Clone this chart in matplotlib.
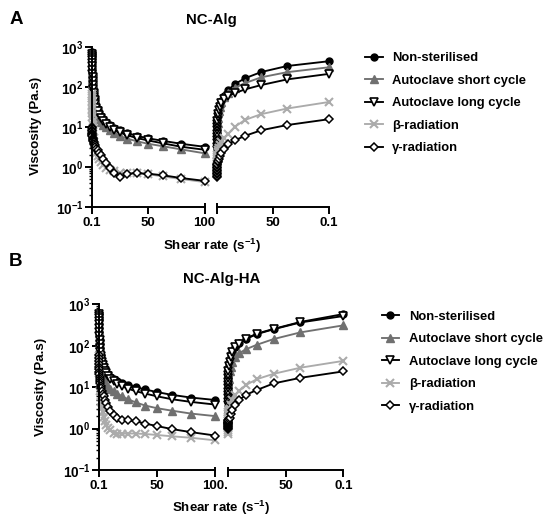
import matplotlib
matplotlib.use("Agg")
import matplotlib.pyplot as plt
from matplotlib.lines import Line2D
from matplotlib.ticker import FixedLocator, FixedFormatter, LogLocator, NullFormatter

plt.rcParams["font.family"] = ["Liberation Sans", "DejaVu Sans"]
plt.rcParams["font.weight"] = "bold"
plt.rcParams["mathtext.fontset"] = "custom"
plt.rcParams["mathtext.bf"] = "Liberation Sans:bold"
plt.rcParams["mathtext.rm"] = "Liberation Sans"

# ---------------------------------------------------------------- data
SERIES = ["Non-sterilised", "Autoclave short cycle", "Autoclave long cycle",
          "\u03b2-radiation", "\u03b3-radiation"]

# ramp-up shear rates (s^-1)
SHEAR_UP = [0.1, 0.126, 0.158, 0.2, 0.251, 0.316, 0.398, 0.501, 0.631, 0.794,
            1.0, 1.26, 1.58, 2.0, 2.51, 3.16, 3.98, 5.01, 6.31, 7.94,
            10.0, 12.6, 15.8, 20.0, 25.1, 31.6, 39.8, 50.1, 63.1, 79.4, 100.0]
# ramp-down positions on the reversed axis
SHEAR_DOWN = [100.0, 99.98, 99.96, 99.94, 99.92, 99.9, 99.85, 99.8, 99.7, 99.6,
              99.4, 99.0, 98.4, 97.5, 96.1, 93.8, 90.1, 84.3, 75.0, 60.3, 37.1, 0.1]

# NC-Alg viscosity (Pa.s)
A_NS_UP = [750, 680, 600, 520, 440, 370, 300, 245, 195, 155, 125, 100, 80, 64, 52, 42, 34,
           28, 23, 19, 16, 13.5, 11.5, 9.6, 8.2, 7.0, 6.0, 5.2, 4.5, 3.8, 3.2]
A_SHORT_UP = [300, 270, 240, 210, 185, 160, 138, 118, 100, 86, 72, 60, 50, 41, 34, 28, 23,
              19, 16, 13.5, 11.5, 9.8, 8.3, 7.0, 5.9, 5.1, 4.4, 3.8, 3.3, 2.75, 2.2]
A_LONG_UP = [680, 610, 540, 465, 395, 330, 268, 217, 173, 138, 111, 89, 71, 57, 46, 37, 30,
             25, 20.5, 17, 14.2, 12, 10.2, 8.6, 7.3, 6.2, 5.3, 4.6, 3.9, 3.2, 2.7]
A_BETA_UP = [68, 60, 52, 44, 36, 29, 23, 18, 14, 11, 8.5, 6.7, 5.3, 4.2, 3.4, 2.8, 2.3,
             1.9, 1.6, 1.35, 1.1, 0.95, 0.85, 0.78, 0.72, 0.7, 0.69, 0.66, 0.58, 0.5, 0.42]
A_GAMMA_UP = [10, 9.2, 8.5, 7.8, 7.2, 6.7, 6.2, 5.8, 5.4, 5.0, 4.7, 4.4, 4.1, 3.8, 3.5, 3.2,
              2.9, 2.6, 2.3, 2.0, 1.6, 1.25, 0.95, 0.72, 0.55, 0.68, 0.7, 0.68, 0.62, 0.53, 0.45]

A_NS_DOWN = [3.0, 3.6, 4.3, 5.2, 6.2, 7.4, 8.9, 10.7, 12.8, 15.3, 18.4, 22,
             27, 33.5, 45, 60, 83, 117, 165, 237, 335, 440]
A_SHORT_DOWN = [1.5, 1.8, 2.2, 2.7, 3.3, 4.1, 5.0, 6.2, 7.7, 9.6, 12.5, 17,
                25, 32, 42, 55, 72, 95, 125, 175, 235, 310]
A_LONG_DOWN = [2.7, 3.2, 3.9, 4.7, 5.6, 6.8, 8.2, 9.9, 12, 14.5, 17.5, 21,
               26, 32, 40, 50, 60, 70, 87, 112, 155, 212]
A_BETA_DOWN = [0.8, 0.88, 0.97, 1.07, 1.18, 1.3, 1.45, 1.62, 1.82, 2.05, 2.35, 2.65,
               3.0, 3.5, 4.2, 5.2, 6.6, 10, 15, 21, 29, 42]
A_GAMMA_DOWN = [0.55, 0.6, 0.66, 0.72, 0.79, 0.86, 0.94, 1.02, 1.1, 1.2, 1.3, 1.45,
                1.6, 1.9, 2.3, 2.9, 3.7, 4.6, 6.0, 8.3, 11.2, 15.6]

# NC-Alg-HA viscosity (Pa.s)
B_NS_UP = [600, 540, 480, 410, 340, 275, 220, 175, 140, 112, 90, 73, 60, 50, 42, 36, 31,
           27, 23.5, 20.5, 18, 15.8, 14, 12.6, 11.3, 10, 8.8, 7.6, 6.5, 5.6, 4.9]
B_SHORT_UP = [240, 200, 165, 135, 110, 90, 75, 63, 53, 45, 38, 32, 27, 23, 20, 17, 15,
              13, 11.5, 10, 9.0, 8.0, 7.0, 6.0, 5.1, 4.3, 3.6, 3.1, 2.7, 2.3, 2.0]
B_LONG_UP = [590, 530, 470, 400, 335, 270, 215, 172, 138, 110, 88, 71, 58, 48, 40, 34, 29,
             25, 21.5, 18.5, 16, 13.8, 12, 10.5, 9.2, 8.0, 7.0, 6.0, 5.1, 4.4, 3.8]
B_BETA_UP = [55, 50, 46, 42, 37, 32, 27, 22, 18, 14, 11, 8, 6, 4.5, 3.3, 2.5, 1.9,
             1.5, 1.25, 1.05, 0.9, 0.8, 0.75, 0.75, 0.76, 0.76, 0.74, 0.7, 0.65, 0.6, 0.52]
B_GAMMA_UP = [60, 50, 42, 36, 31, 27, 23.5, 20.5, 18, 16, 14, 12.3, 10.8, 9.4, 8.1, 7.0,
              6.0, 5.0, 4.1, 3.3, 2.6, 2.15, 1.85, 1.65, 1.58, 1.5, 1.32, 1.15, 0.97, 0.82, 0.68]

B_NS_DOWN = [4.9, 5.7, 6.7, 7.9, 9.3, 11, 13, 15.5, 18.5, 22, 27, 34,
             42, 55, 72, 95, 115, 148, 195, 255, 375, 580]
B_SHORT_DOWN = [2.0, 2.35, 2.75, 3.2, 3.8, 4.5, 5.3, 6.3, 7.6, 9.2, 12, 16,
                24, 31, 40, 53, 66, 82, 105, 145, 210, 310]
B_LONG_DOWN = [3.8, 4.5, 5.4, 6.5, 7.8, 9.4, 11.3, 13.6, 16.4, 20, 25, 32,
               41, 54, 70, 92, 112, 145, 190, 250, 365, 520]
B_BETA_DOWN = [0.75, 0.84, 0.94, 1.05, 1.18, 1.33, 1.5, 1.7, 1.95, 2.2, 2.5, 2.8,
               3.0, 3.8, 4.9, 6.3, 8.2, 11.2, 15.5, 21, 29.5, 43]
B_GAMMA_DOWN = [1.0, 1.05, 1.1, 1.15, 1.2, 1.27, 1.33, 1.4, 1.48, 1.56, 1.65, 1.72,
                1.8, 2.2, 2.8, 3.7, 4.9, 6.5, 8.5, 12.3, 16.8, 24]

Y_TICKS = [0.1, 1, 10, 100, 1000]
Y_TICK_LABELS = [r"$\mathbf{10^{-1}}$", r"$\mathbf{10^{0}}$", r"$\mathbf{10^{1}}$",
                 r"$\mathbf{10^{2}}$", r"$\mathbf{10^{3}}$"]
X_TICKS_UP = [0.1, 50, 100]
X_TICKS_DOWN = [100, 50, 0.1]
X_LABELS_DOWN = ["", "50", "0.1"]

# ---------------------------------------------------------------- styles
STYLES = [
    dict(color="black", marker="o", ms=5.0, mfc="black", mec="black", mew=1.0),
    dict(color="#707070", marker="^", ms=5.2, mfc="#707070", mec="#707070", mew=1.0),
    dict(color="black", marker="v", ms=5.6, mfc="white", mec="black", mew=1.2),
    dict(color="#ababab", marker="x", ms=5.4, mfc="#ababab", mec="#ababab", mew=1.5),
    dict(color="black", marker="D", ms=3.8, mfc="white", mec="black", mew=1.1),
]
LW = 1.35
SPINE_W = 1.4

W, H = 547, 517
fig = plt.figure(figsize=(W / 100, H / 100), dpi=100)


def fx(px):
    return px / W


def fy(py):
    return 1 - py / H


def make_axes(x0, x1, ytop, ybot):
    return fig.add_axes([fx(x0), fy(ybot), (x1 - x0) / W, (ybot - ytop) / H])


def style_axis(ax, show_y):
    ax.set_yscale("log")
    ax.set_ylim(0.1, 1000)
    for s in ["top", "right"]:
        ax.spines[s].set_visible(False)
    ax.spines["bottom"].set_linewidth(SPINE_W)
    ax.spines["left"].set_linewidth(SPINE_W)
    ax.patch.set_alpha(0)
    ax.tick_params(axis="x", direction="out", length=5, width=SPINE_W,
                   labelsize=9.5, pad=2)
    if show_y:
        ax.yaxis.set_major_locator(FixedLocator(Y_TICKS))
        ax.yaxis.set_major_formatter(FixedFormatter(Y_TICK_LABELS))
        ax.yaxis.set_minor_locator(LogLocator(base=10, subs=range(2, 10), numticks=20))
        ax.yaxis.set_minor_formatter(NullFormatter())
        ax.tick_params(axis="y", which="major", direction="out", length=5,
                       width=SPINE_W, labelsize=9.8, pad=1)
        ax.tick_params(axis="y", which="minor", direction="out", length=2.5,
                       width=1.0)
    else:
        ax.spines["left"].set_visible(False)
        ax.tick_params(axis="y", which="both", left=False, labelleft=False)


def break_mark(ax, xa, height_px):
    ax.plot([xa, xa], [0, 3.5 / height_px], transform=ax.transAxes,
            color="black", lw=SPINE_W, clip_on=False, solid_capstyle="butt")


def draw_panel(rect_up, rect_down, ups, downs, up_labels, title, title_xy,
               letter, letter_xy, ylabel_xy, xlabel_xy, legend_xy):
    ytop, ybot = rect_up[2], rect_up[3]
    ax1 = make_axes(*rect_up)
    ax2 = make_axes(*rect_down)
    style_axis(ax1, True)
    style_axis(ax2, False)

    for vals, st in zip(ups, STYLES):
        ax1.plot(SHEAR_UP, vals, lw=LW, clip_on=False, **st)
    for vals, st in zip(downs, STYLES):
        ax2.plot(SHEAR_DOWN, vals, lw=LW, clip_on=False, **st)

    ax1.set_xlim(0.1, 100)
    ax1.set_xticks(X_TICKS_UP)
    ax1.set_xticklabels(up_labels)
    ax2.set_xlim(100, 0.1)
    ax2.set_xticks(X_TICKS_DOWN)
    ax2.set_xticklabels(X_LABELS_DOWN)
    for lab in ax1.get_xticklabels() + ax2.get_xticklabels() + ax1.get_yticklabels():
        lab.set_fontweight("bold")

    hpx = ybot - ytop
    break_mark(ax1, 1.0, hpx)
    break_mark(ax2, 0.0, hpx)

    fig.text(fx(title_xy[0]), fy(title_xy[1]), title, ha="center", va="center",
             fontsize=10.8, fontweight="bold")
    fig.text(fx(letter_xy[0]), fy(letter_xy[1]), letter, ha="center", va="center",
             fontsize=13.5, fontweight="bold")
    fig.text(fx(ylabel_xy[0]), fy(ylabel_xy[1]), "Viscosity (Pa.s)", rotation=90,
             ha="center", va="center", fontsize=9.6, fontweight="bold")
    fig.text(fx(xlabel_xy[0]), fy(xlabel_xy[1]), r"Shear rate (s$^{\mathbf{-1}}$)",
             ha="center", va="center", fontsize=9.6, fontweight="bold")

    handles = [Line2D([], [], lw=LW, **st) for st in STYLES]
    fig.legend(handles, SERIES, loc="upper left",
               bbox_to_anchor=(fx(legend_xy[0]), fy(legend_xy[1])),
               frameon=False, handlelength=1.35, handletextpad=0.75,
               labelspacing=0.8, borderpad=0, borderaxespad=0, numpoints=1,
               prop=dict(weight="bold", size=9.4))


draw_panel((92, 204.5, 47, 207), (217, 328.5, 47, 207),
           [A_NS_UP, A_SHORT_UP, A_LONG_UP, A_BETA_UP, A_GAMMA_UP],
           [A_NS_DOWN, A_SHORT_DOWN, A_LONG_DOWN, A_BETA_DOWN, A_GAMMA_DOWN],
           ["0.1", "50", "100"], "NC-Alg", (211, 20.5), "A", (16, 19),
           (36, 126), (211.5, 246), (365, 52))

draw_panel((99, 215, 304.3, 470), (227.7, 343.3, 304.3, 470),
           [B_NS_UP, B_SHORT_UP, B_LONG_UP, B_BETA_UP, B_GAMMA_UP],
           [B_NS_DOWN, B_SHORT_DOWN, B_LONG_DOWN, B_BETA_DOWN, B_GAMMA_DOWN],
           ["0.1", "50", "100."], "NC-Alg-HA", (222, 278.5), "B", (16, 262),
           (41, 387), (221, 507.5), (381.5, 310.5))

fig.savefig("out.png", dpi=100)
